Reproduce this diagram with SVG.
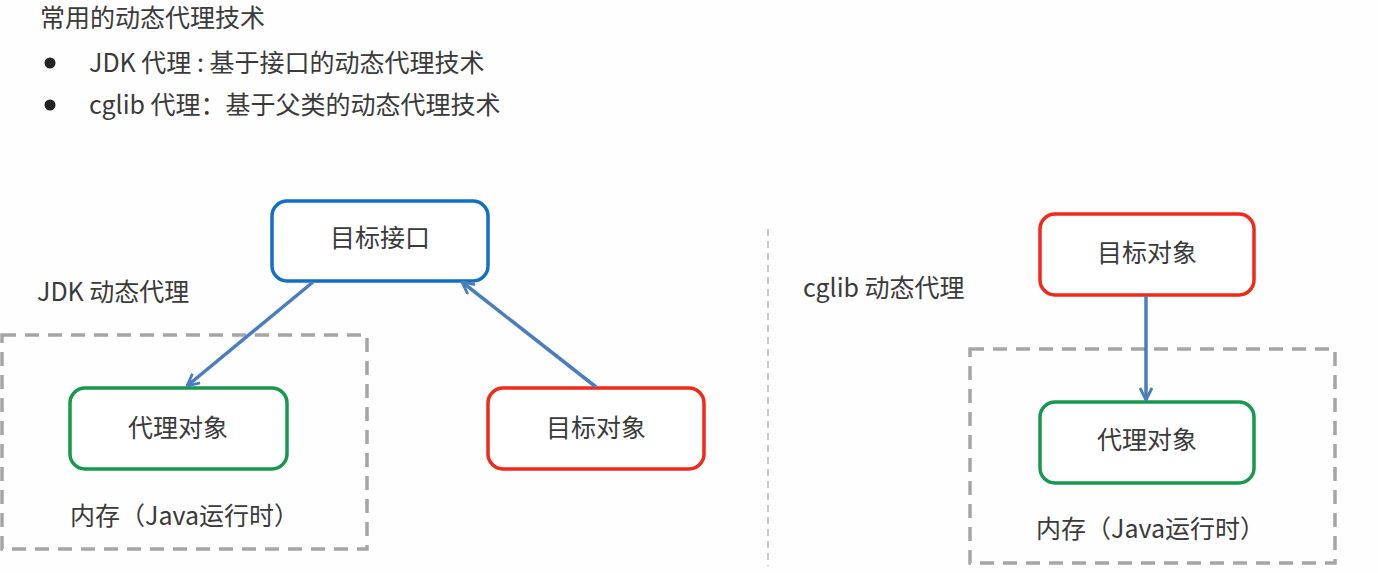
<svg xmlns="http://www.w3.org/2000/svg" width="1378" height="573" viewBox="0 0 1378 573">
<style>
text{font-family:"Noto Sans CJK SC","Noto Sans",sans-serif;fill:#3a3a3a;font-size:25px}
.node text{text-anchor:middle}
.box{fill:#fff;stroke-width:3.5}
.blue{stroke:#126fc6}
.green{stroke:#17994d}
.red{stroke:#f2281a}
.mem{fill:none;stroke:#a5a5a5;stroke-width:3.5;stroke-dasharray:14 9}
.conn{fill:none;stroke:#4a7dbd;stroke-width:3.5}
</style>
<defs>
<marker id="arr" viewBox="0 0 14 14" refX="13" refY="7" markerWidth="14" markerHeight="14" markerUnits="userSpaceOnUse" orient="auto">
<path d="M1,1 L13,7 L1,13" fill="none" stroke="#4a7dbd" stroke-width="2.8"/>
</marker>
</defs>
<rect width="1378" height="573" fill="#fefefe"/>
<g id="header">
<text x="40" y="27">常用的动态代理技术</text>
<circle cx="50" cy="63" r="5.5" fill="#222"/>
<text x="89" y="72">JDK 代理 : 基于接口的动态代理技术</text>
<circle cx="50" cy="105" r="5.5" fill="#222"/>
<text x="89" y="114">cglib 代理：基于父类的动态代理技术</text>
</g>
<line x1="768" y1="229" x2="768" y2="566" stroke="#c8c8c8" stroke-width="2" stroke-dasharray="7 5"/>
<g id="jdk-label"><text x="37" y="301">JDK 动态代理</text></g>
<g id="cglib-label"><text x="803" y="297">cglib 动态代理</text></g>
<g id="memory-left">
<rect class="mem" x="2" y="335" width="365" height="214"/>
<text x="70" y="525">内存（Java运行时）</text>
</g>
<g id="memory-right">
<rect class="mem" x="970" y="349" width="365" height="214"/>
<text x="1036" y="538">内存（Java运行时）</text>
</g>
<g id="target-interface" class="node">
<rect class="box blue" x="272" y="201" width="216" height="80" rx="15"/>
<text x="380" y="247">目标接口</text>
</g>
<g id="proxy-left" class="node">
<rect class="box green" x="70" y="388" width="217" height="81" rx="15"/>
<text x="178" y="437">代理对象</text>
</g>
<g id="target-left" class="node">
<rect class="box red" x="488" y="388" width="216" height="81" rx="15"/>
<text x="596" y="437">目标对象</text>
</g>
<g id="target-right" class="node">
<rect class="box red" x="1040" y="214" width="214" height="81" rx="15"/>
<text x="1147" y="262">目标对象</text>
</g>
<g id="proxy-right" class="node">
<rect class="box green" x="1040" y="402" width="214" height="81" rx="15"/>
<text x="1147" y="449">代理对象</text>
</g>
<g id="connectors">
<line class="conn" x1="313" y1="282" x2="187" y2="386" marker-end="url(#arr)"/>
<line class="conn" x1="596" y1="387" x2="462" y2="282" marker-end="url(#arr)"/>
<line class="conn" x1="1146" y1="296" x2="1146" y2="400" marker-end="url(#arr)"/>
</g>
</svg>
